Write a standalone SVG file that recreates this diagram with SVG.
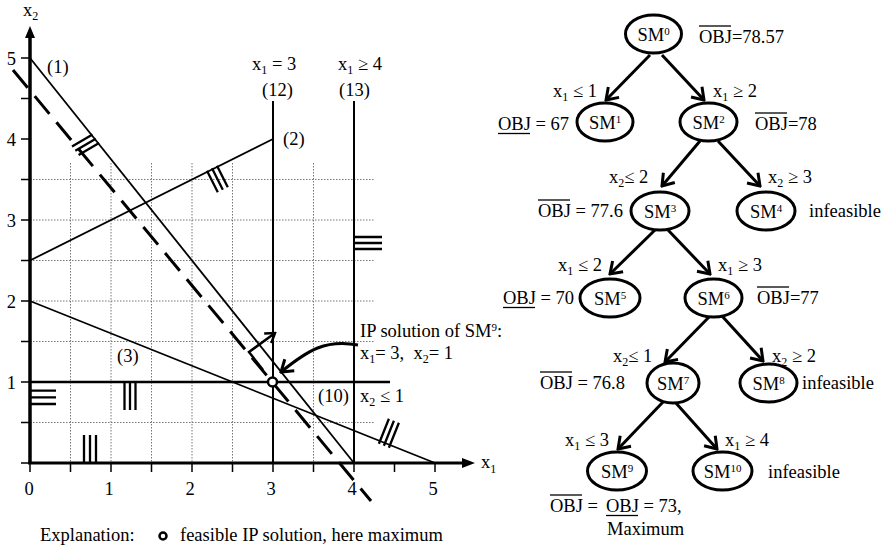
<svg xmlns="http://www.w3.org/2000/svg" width="892" height="550" viewBox="0 0 892 550">
<style>
text { font-family: "Liberation Serif", "Times New Roman", serif; font-size: 18.5px; fill: #000; }
.sb { font-size: 12px; }
.sp { font-size: 11px; }
.grid { stroke: #777; stroke-width: 1; stroke-dasharray: 1.5 1.5; fill: none; }
.tick { stroke: #000; stroke-width: 1.5; }
.thin { stroke: #000; stroke-width: 1.8; fill: none; }
.hat { stroke: #000; stroke-width: 2.3; }
.node { fill: #fff; stroke: #000; stroke-width: 3; }
.edge { stroke: #000; stroke-width: 3; fill: none; marker-end: url(#ah); }
.bar { stroke: #000; stroke-width: 1.3; }
</style>
<defs>
<marker id="ah" viewBox="-14 -10 16 20" refX="0" refY="0" markerWidth="16" markerHeight="20" markerUnits="userSpaceOnUse" orient="auto">
<path d="M-11,-7.5 L0,0 L-11,7.5" fill="none" stroke="#000" stroke-width="3"/>
</marker>
<marker id="ahs" viewBox="-12 -9 14 18" refX="0" refY="0" markerWidth="14" markerHeight="18" markerUnits="userSpaceOnUse" orient="auto">
<path d="M-9,-6 L0,0 L-9,6" fill="none" stroke="#000" stroke-width="2.5"/>
</marker>
</defs>
<rect width="892" height="550" fill="#fff"/>

<g id="plot">
<g id="grid">
<path class="grid" d="M70.5,163V463M111,163V463M151.5,163V463M192,163V463M232.5,163V463M313.5,163V463"/>
<path class="grid" d="M30,179.5H375M30,220H375M30,260.5H375M30,301H375M30,341.5H375M30,422.5H375"/>
</g>
<g id="ticks">
<path class="tick" d="M21,58H30M21,98.5H30M21,139H30M21,179.5H30M21,220H30M21,260.5H30M21,301H30M21,341.5H30M21,382H30M21,422.5H30M21,463H30"/>
<path class="tick" d="M30,463V472M70.5,463V472M111,463V472M151.5,463V472M192,463V472M232.5,463V472M273,463V472M313.5,463V472M354,463V472M394.5,463V472M435,463V472"/>
</g>
<g id="axes">
<line x1="30" y1="463" x2="30" y2="36" stroke="#000" stroke-width="3.5"/>
<polygon points="30,26 25,38 35,38" fill="#000"/>
<line x1="28" y1="463" x2="464" y2="463" stroke="#000" stroke-width="3"/>
<polygon points="475,463 462,458 462,468" fill="#000"/>
</g>
<g id="constraints">
<line class="thin" x1="30" y1="58" x2="354" y2="463"/>
<line class="thin" x1="30" y1="260.5" x2="273" y2="139"/>
<line class="thin" x1="30" y1="301" x2="435" y2="463"/>
<line x1="273" y1="101" x2="273" y2="463" stroke="#000" stroke-width="2"/>
<line x1="354" y1="101" x2="354" y2="463" stroke="#000" stroke-width="2"/>
<line x1="30" y1="382" x2="390" y2="382" stroke="#000" stroke-width="2.5"/>
</g>
<line id="objective" x1="13" y1="70" x2="371" y2="501" stroke="#000" stroke-width="3" stroke-dasharray="23 11"/>
<g id="hatches">
<path class="hat" d="M92.5,134.5L72,146.5M95.8,138.8L75.3,150.8M99.1,143L78.6,155"/>
<path class="hat" d="M207,170.7L217.8,192.2M212,168.2L222.8,189.7M217,165.7L227.8,187.2"/>
<path class="hat" d="M378.9,443.8L388.9,418.7M383.9,445.8L393.9,420.7M388.9,447.8L398.9,422.7"/>
<path class="hat" d="M354,237H382M354,243H382M354,249H382"/>
<path class="hat" d="M30,390.7H56M30,397.3H56M30,404H56"/>
<path class="hat" d="M124.5,382V410M130,382V410M135.5,382V410"/>
<path class="hat" d="M84,435V463M90,435V463M96,435V463"/>
</g>
<polyline points="263,370 249,352 275,333" fill="none" stroke="#000" stroke-width="2.5" marker-end="url(#ahs)"/>
<path d="M358,345 C326,339 308,350 281,372" fill="none" stroke="#000" stroke-width="3" marker-end="url(#ah)"/>
<circle cx="272.5" cy="382" r="4.5" fill="#fff" stroke="#000" stroke-width="2.5"/>
<g id="plot-labels">
<text x="23" y="16">x<tspan class="sb" dy="4">2</tspan></text>
<text x="16" y="65" text-anchor="end">5</text>
<text x="16" y="146" text-anchor="end">4</text>
<text x="16" y="227" text-anchor="end">3</text>
<text x="16" y="308" text-anchor="end">2</text>
<text x="16" y="389" text-anchor="end">1</text>
<text x="29" y="495" text-anchor="middle">0</text>
<text x="109" y="495" text-anchor="middle">1</text>
<text x="190" y="495" text-anchor="middle">2</text>
<text x="271" y="495" text-anchor="middle">3</text>
<text x="352" y="495" text-anchor="middle">4</text>
<text x="433" y="495" text-anchor="middle">5</text>
<text x="481" y="468">x<tspan class="sb" dy="5">1</tspan></text>
<text x="47" y="73">(1)</text>
<text x="252" y="70">x<tspan class="sb" dy="4">1</tspan><tspan dy="-4"> = 3</tspan></text>
<text x="262" y="96">(12)</text>
<text x="338" y="70">x<tspan class="sb" dy="4">1</tspan><tspan dy="-4"> ≥ 4</tspan></text>
<text x="339" y="96">(13)</text>
<text x="283" y="145">(2)</text>
<text x="117" y="362">(3)</text>
<text x="318" y="402">(10)</text>
<text x="360" y="402">x<tspan class="sb" dy="4">2</tspan><tspan dy="-4"> ≤ 1</tspan></text>
<text x="360" y="337">IP solution of SM<tspan class="sp" dy="-6">9</tspan><tspan dy="6">:</tspan></text>
<text x="360" y="359">x<tspan class="sb" dy="4">1</tspan><tspan dy="-4">= 3, &#160;x</tspan><tspan class="sb" dy="4">2</tspan><tspan dy="-4">= 1</tspan></text>
</g>
<g id="legend">
<text x="40" y="541">Explanation:</text>
<circle cx="163" cy="536" r="3.5" fill="#fff" stroke="#000" stroke-width="2.5"/>
<text x="180" y="541">feasible IP solution, here maximum</text>
</g>
</g>

<g id="edges">
<line class="edge" x1="650" y1="55" x2="606" y2="100"/>
<line class="edge" x1="662" y1="55" x2="704" y2="100"/>
<line class="edge" x1="700" y1="141" x2="662" y2="186"/>
<line class="edge" x1="718" y1="141" x2="760" y2="186"/>
<line class="edge" x1="655" y1="230" x2="610" y2="274"/>
<line class="edge" x1="668" y1="230" x2="710" y2="274"/>
<line class="edge" x1="710" y1="316" x2="665" y2="362"/>
<line class="edge" x1="722" y1="316" x2="763" y2="361"/>
<line class="edge" x1="663" y1="402" x2="618" y2="449"/>
<line class="edge" x1="675" y1="402" x2="717" y2="449"/>
</g>

<g id="edge-labels">
<text x="553" y="97">x<tspan class="sb" dy="4">1</tspan><tspan dy="-4"> ≤ 1</tspan></text>
<text x="713" y="97">x<tspan class="sb" dy="4">1</tspan><tspan dy="-4"> ≥ 2</tspan></text>
<text x="609" y="183">x<tspan class="sb" dy="4">2</tspan><tspan dy="-4">≤ 2</tspan></text>
<text x="768" y="183">x<tspan class="sb" dy="4">2</tspan><tspan dy="-4"> ≥ 3</tspan></text>
<text x="558" y="271">x<tspan class="sb" dy="4">1</tspan><tspan dy="-4"> ≤ 2</tspan></text>
<text x="718" y="271">x<tspan class="sb" dy="4">1</tspan><tspan dy="-4"> ≥ 3</tspan></text>
<text x="613" y="362">x<tspan class="sb" dy="4">2</tspan><tspan dy="-4">≤ 1</tspan></text>
<text x="772" y="362">x<tspan class="sb" dy="4">2</tspan><tspan dy="-4"> ≥ 2</tspan></text>
<text x="565" y="446">x<tspan class="sb" dy="4">1</tspan><tspan dy="-4"> ≤ 3</tspan></text>
<text x="725" y="446">x<tspan class="sb" dy="4">1</tspan><tspan dy="-4"> ≥ 4</tspan></text>
</g>

<g id="sm0"><ellipse class="node" cx="653.5" cy="34" rx="28" ry="19"/><text x="653.5" y="41" text-anchor="middle">SM<tspan class="sp" dy="-6">0</tspan></text>
<text x="699" y="43">OBJ=78.57</text><line class="bar" x1="699" y1="26" x2="731" y2="26"/></g>
<g id="sm1"><ellipse class="node" cx="605" cy="122" rx="28" ry="19"/><text x="605" y="129" text-anchor="middle">SM<tspan class="sp" dy="-6">1</tspan></text>
<text x="498" y="130">OBJ = 67</text><line class="bar" x1="498" y1="133.5" x2="530" y2="133.5"/></g>
<g id="sm2"><ellipse class="node" cx="708.5" cy="122" rx="28.5" ry="19"/><text x="708.5" y="129" text-anchor="middle">SM<tspan class="sp" dy="-6">2</tspan></text>
<text x="755" y="130">OBJ=78</text><line class="bar" x1="755" y1="113" x2="787" y2="113"/></g>
<g id="sm3"><ellipse class="node" cx="660" cy="211" rx="29" ry="19"/><text x="660" y="218" text-anchor="middle">SM<tspan class="sp" dy="-6">3</tspan></text>
<text x="538" y="217">OBJ = 77.6</text><line class="bar" x1="538" y1="200" x2="570" y2="200"/></g>
<g id="sm4"><ellipse class="node" cx="766" cy="211" rx="29" ry="19"/><text x="766" y="218" text-anchor="middle">SM<tspan class="sp" dy="-6">4</tspan></text>
<text x="809" y="217">infeasible</text></g>
<g id="sm5"><ellipse class="node" cx="610" cy="298" rx="30" ry="19"/><text x="610" y="305" text-anchor="middle">SM<tspan class="sp" dy="-6">5</tspan></text>
<text x="503" y="304">OBJ = 70</text><line class="bar" x1="503" y1="307.5" x2="535" y2="307.5"/></g>
<g id="sm6"><ellipse class="node" cx="713.5" cy="298" rx="28.5" ry="19"/><text x="713.5" y="305" text-anchor="middle">SM<tspan class="sp" dy="-6">6</tspan></text>
<text x="757" y="304">OBJ=77</text><line class="bar" x1="757" y1="287" x2="789" y2="287"/></g>
<g id="sm7"><ellipse class="node" cx="673" cy="383" rx="26" ry="20"/><text x="673" y="390" text-anchor="middle">SM<tspan class="sp" dy="-6">7</tspan></text>
<text x="540" y="389">OBJ = 76.8</text><line class="bar" x1="540" y1="372" x2="572" y2="372"/></g>
<g id="sm8"><ellipse class="node" cx="768.5" cy="383" rx="28.5" ry="19"/><text x="768.5" y="390" text-anchor="middle">SM<tspan class="sp" dy="-6">8</tspan></text>
<text x="802" y="389">infeasible</text></g>
<g id="sm9"><ellipse class="node" cx="617" cy="471" rx="29.5" ry="19"/><text x="617" y="478" text-anchor="middle">SM<tspan class="sp" dy="-6">9</tspan></text>
<text x="550" y="512">OBJ =</text><line class="bar" x1="550" y1="495" x2="582" y2="495"/>
<text x="606" y="512">OBJ = 73,</text><line class="bar" x1="606" y1="515.5" x2="638" y2="515.5"/>
<text x="607" y="535">Maximum</text></g>
<g id="sm10"><ellipse class="node" cx="722.5" cy="471" rx="29.5" ry="19"/><text x="722.5" y="478" text-anchor="middle">SM<tspan class="sp" dy="-6">10</tspan></text>
<text x="768" y="478">infeasible</text></g>
</svg>
